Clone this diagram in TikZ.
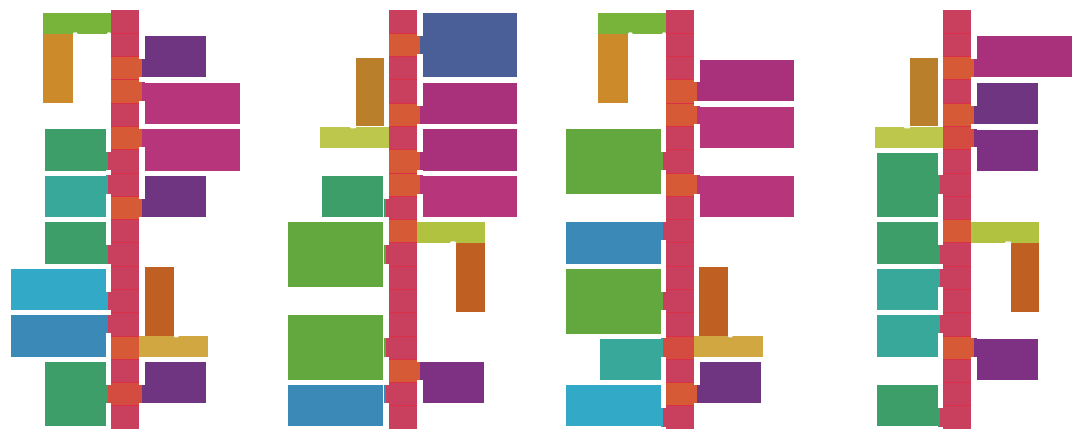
\documentclass[tikz,border=0pt]{standalone}
\definecolor{cP}{HTML}{C8405E}
\definecolor{cO}{HTML}{D65A36}
\definecolor{cR}{HTML}{D44B40}
\definecolor{sepc}{HTML}{DC3048}
\definecolor{lime}{HTML}{78B43A}
\definecolor{orV}{HTML}{CC8A2A}
\definecolor{brO}{HTML}{BA7F2A}
\definecolor{ygr}{HTML}{BDC74B}
\definecolor{grD}{HTML}{3D9E69}
\definecolor{grM}{HTML}{62A83F}
\definecolor{teal}{HTML}{38A89A}
\definecolor{cyan}{HTML}{31A9C7}
\definecolor{blue}{HTML}{3B89B7}
\definecolor{navy}{HTML}{4A5E98}
\definecolor{purp}{HTML}{6F3580}
\definecolor{purpB}{HTML}{7E3183}
\definecolor{mag}{HTML}{B7357B}
\definecolor{magB}{HTML}{A9307B}
\definecolor{brR}{HTML}{C05F22}
\definecolor{gold}{HTML}{D1A741}
\definecolor{limeB}{HTML}{B1C140}
\newcommand\blk[5]{\fill[#5] (#1,#2) rectangle (#3,#4);}
\newcommand\notch[4]{\fill[white,rounded corners=1pt] (#1,#2) rectangle (#3,#4);}
\newcommand\spinecol[2]{%
  \foreach \c [count=\i from 0] in {#2} {\fill[\c] (#1,{10+23.28*\i}) rectangle ({#1+28},{10+23.28*(\i+1)});}
  \foreach \i in {1,...,17} {\draw[sepc,line width=0.7pt] (#1,{10+23.28*\i}) -- ({#1+28},{10+23.28*\i});}
}
\newcommand\ltab[4]{%
  \fill[#3] ({#1-5.5},{10+23.28*#2+2.5}) rectangle ({#1-2.5},{10+23.28*(#2+1)-2.5});
  \fill[#4] ({#1-2.6},{10+23.28*#2+2.5}) rectangle (#1,{10+23.28*(#2+1)-2.5});
}
\newcommand\rtab[4]{%
  \fill[#4] ({#1+28},{10+23.28*#2+2.5}) rectangle ({#1+30.6},{10+23.28*(#2+1)-2.5});
  \fill[#3] ({#1+30.5},{10+23.28*#2+2.5}) rectangle ({#1+34},{10+23.28*(#2+1)-2.5});
}
\begin{document}
\begin{tikzpicture}[x=1pt,y=-1pt]
\useasboundingbox (0,0) rectangle (1084,443);
\fill[white] (0,0) rectangle (1084,443);
% ---------------- column 1 ----------------
\blk{43}{13}{112}{34}{lime}
\blk{43}{34}{73}{103}{orV}
\notch{73}{32.5}{77.5}{36}
\notch{107}{32.5}{111}{36}
\blk{45}{129}{106}{171}{grD}
\blk{45}{176}{106}{217}{teal}
\blk{45}{222}{106}{264}{grD}
\blk{11}{269}{106}{310}{cyan}
\blk{11}{315}{106}{357}{blue}
\blk{45}{362}{106}{426}{grD}
\blk{145}{36}{206}{77}{purp}
\blk{145}{83}{240}{124}{mag}
\blk{145}{129}{240}{171}{mag}
\blk{145}{176}{206}{217}{purp}
\blk{145}{267}{174}{336}{brR}
\blk{138}{336}{208}{357}{gold}
\notch{174}{333.5}{178.5}{337.5}
\blk{145}{362}{206}{403}{purp}
\spinecol{111}{cP,cP,cO,cO,cP,cO,cP,cP,cO,cP,cP,cP,cP,cP,cO,cP,cR,cP}
\ltab{111}{6}{grD}{cP}
\ltab{111}{7}{teal}{cP}
\ltab{111}{10}{grD}{cP}
\ltab{111}{12}{cyan}{cP}
\ltab{111}{13}{blue}{cP}
\ltab{111}{16}{grD}{cR}
\rtab{111}{2}{purp}{cO}
\rtab{111}{3}{mag}{cO}
\rtab{111}{5}{mag}{cO}
\rtab{111}{8}{purp}{cO}
\rtab{111}{16}{purp}{cR}
% ---------------- column 2 ----------------
\blk{356}{58}{384}{126}{brO}
\blk{320}{127}{390}{148}{ygr}
\notch{350}{124.5}{356}{128.5}
\blk{322}{176}{383}{217}{grD}
\blk{288}{222}{383}{287}{grM}
\blk{288}{315}{383}{380}{grM}
\blk{288}{385}{383}{426}{blue}
\blk{423}{13}{517}{77}{navy}
\blk{423}{83}{517}{124}{magB}
\blk{423}{129}{517}{171}{magB}
\blk{423}{176}{517}{217}{mag}
\blk{416}{222}{485}{243}{limeB}
\blk{456}{243}{485}{312}{brR}
\notch{450}{241.5}{456}{245}
\blk{423}{362}{484}{403}{purpB}
\spinecol{389}{cP,cO,cP,cP,cO,cP,cO,cO,cP,cO,cP,cP,cP,cP,cP,cO,cP,cP}
\ltab{389}{8}{grD}{cP}
\ltab{389}{10}{grM}{cP}
\ltab{389}{14}{grM}{cP}
\ltab{389}{16}{blue}{cP}
\rtab{389}{1}{navy}{cO}
\rtab{389}{4}{magB}{cO}
\rtab{389}{6}{magB}{cO}
\rtab{389}{7}{mag}{cO}
\rtab{389}{15}{purpB}{cO}
% ---------------- column 3 ----------------
\blk{598}{13}{667}{34}{lime}
\blk{598}{34}{628}{103}{orV}
\notch{628}{32.5}{632.5}{36}
\notch{662}{32.5}{666}{36}
\blk{566}{129}{661}{194}{grM}
\blk{566}{222}{661}{264}{blue}
\blk{566}{269}{661}{334}{grM}
\blk{600}{339}{661}{380}{teal}
\blk{566}{385}{661}{426}{cyan}
\blk{700}{60}{794}{101}{magB}
\blk{700}{107}{794}{148}{mag}
\blk{700}{176}{794}{217}{mag}
\blk{699}{267}{728}{336}{brR}
\blk{693}{336}{763}{357}{gold}
\notch{728}{333.5}{732.5}{337.5}
\blk{700}{362}{761}{403}{purp}
\spinecol{666}{cP,cP,cP,cO,cO,cP,cP,cO,cP,cP,cP,cP,cP,cP,cR,cP,cO,cP}
\ltab{666}{6}{grM}{cP}
\ltab{666}{9}{blue}{cP}
\ltab{666}{12}{grM}{cP}
\ltab{666}{14}{teal}{cR}
\ltab{666}{17}{cyan}{cP}
\rtab{666}{3}{magB}{cO}
\rtab{666}{4}{mag}{cO}
\rtab{666}{7}{mag}{cO}
\rtab{666}{16}{purp}{cO}
% ---------------- column 4 ----------------
\blk{910}{58}{938}{126}{brO}
\blk{875}{127}{944}{148}{ygr}
\notch{904}{124.5}{910}{128.5}
\blk{877}{153}{938}{217}{grD}
\blk{877}{222}{938}{264}{grD}
\blk{877}{269}{938}{310}{teal}
\blk{877}{315}{938}{357}{teal}
\blk{877}{385}{938}{426}{grD}
\blk{977}{36}{1072}{77}{magB}
\blk{977}{83}{1038}{124}{purp}
\blk{977}{130}{1038}{171}{purpB}
\blk{970}{222}{1039}{243}{limeB}
\blk{1011}{243}{1039}{312}{brR}
\notch{1005}{241.5}{1011}{245}
\blk{977}{339}{1038}{380}{purpB}
\spinecol{943}{cP,cP,cO,cP,cO,cR,cP,cP,cP,cO,cP,cP,cP,cP,cO,cP,cP,cP}
\ltab{943}{7}{grD}{cP}
\ltab{943}{10}{grD}{cP}
\ltab{943}{11}{teal}{cP}
\ltab{943}{13}{teal}{cP}
\ltab{943}{17}{grD}{cP}
\rtab{943}{2}{magB}{cO}
\rtab{943}{4}{purp}{cO}
\rtab{943}{5}{purpB}{cR}
\rtab{943}{14}{purpB}{cO}
\end{tikzpicture}
\end{document}
